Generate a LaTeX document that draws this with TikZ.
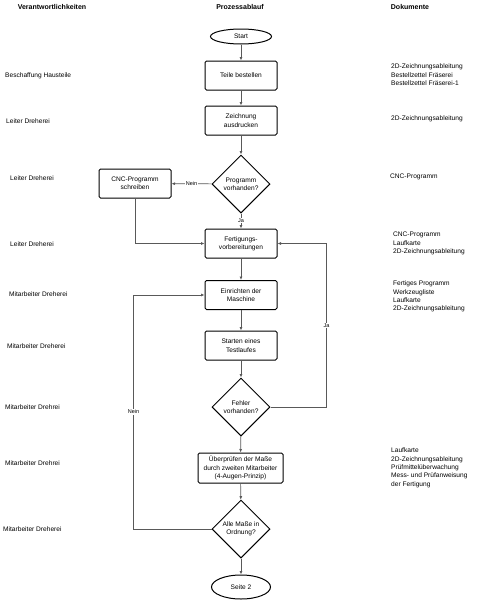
\documentclass[tikz,border=0pt]{standalone}
\usepackage{fontspec}
\setmainfont{Liberation Sans}
\usetikzlibrary{shapes.geometric,arrows.meta}
\tikzset{
  base/.style={font=\fontsize{6.6}{8.3}\selectfont, align=center, inner sep=0pt},
  proc/.style={base, draw=black, line width=1pt, rounded corners=1.5pt, fill=white, minimum width=72pt, minimum height=29pt},
  dec/.style={base, draw=black, line width=1pt, diamond, minimum width=58pt, minimum height=58pt, fill=white},
  term/.style={base, draw=black, line width=1pt, ellipse, minimum width=61pt, fill=white},
  conn/.style={draw=black!65, line width=0.7pt, -{Latex[length=3.5pt,width=3pt]}},
  lbl/.style={base, font=\fontsize{5.5}{6.5}\selectfont, fill=white, inner sep=0.8pt},
  head/.style={font=\bfseries\fontsize{7}{8.4}\selectfont, inner sep=0pt},
  resp/.style={base, anchor=west},
  docs/.style={base, align=left, anchor=north west}
}
\begin{document}
\begin{tikzpicture}[x=1pt,y=-1pt]
\useasboundingbox[fill=white] (0,0) rectangle (480,600);
% headers
\node[head] (h1) at (52,7) {Verantwortlichkeiten};
\node[head] (h2) at (240,7) {Prozessablauf};
\node[head] (h3) at (410,7) {Dokumente};
% flow
\node[term, minimum height=15pt] (start) at (241,36.5) {Start};
\node[proc] (teile) at (241,75.5) {Teile bestellen};
\node[proc] (zeich) at (241,120.5) {Zeichnung\\ausdrucken};
\node[dec] (prog) at (241,184) {Programm\\vorhanden?};
\node[proc] (cnc) at (135,183.5) {CNC-Programm\\schreiben};
\node[proc] (fert) at (241,243.5) {Fertigungs-\\vorbereitungen};
\node[proc] (einr) at (241,295) {Einrichten der\\Maschine};
\node[proc] (test) at (241,345.5) {Starten eines\\Testlaufes};
\node[dec] (fehl) at (241,407) {Fehler\\vorhanden?};
\node[proc, minimum width=85pt, minimum height=30pt] (pruef) at (240.5,468) {Überprüfen der Maße\\durch zweiten Mitarbeiter\\(4-Augen-Prinzip)};
\node[dec] (alle) at (241,529) {Alle Maße in\\Ordnung?};
\node[term, minimum width=59pt, minimum height=24pt] (seite) at (241,587) {Seite 2};
% connectors
\draw[conn] (start) -- (teile);
\draw[conn] (teile) -- (zeich);
\draw[conn] (zeich) -- (prog);
\draw[conn] (prog) -- node[lbl] {Nein} (cnc);
\draw[conn] (prog) -- node[lbl, pos=0.45] {Ja} (fert);
\draw[conn] (cnc.south) |- (fert.west);
\draw[conn] (fert) -- (einr);
\draw[conn] (einr) -- (test);
\draw[conn] (test) -- (fehl);
\draw[conn] (fehl.east) -- ++(56,0) coordinate (jr) |- node[lbl, pos=0.25] {Ja} (fert.east);
\draw[conn] (fehl) -- (pruef);
\draw[conn] (pruef) -- (alle);
\draw[conn] (alle.west) -- ++(-78,0) coordinate (nl) |- node[lbl, pos=0.25] {Nein} (einr.west);
\draw[conn] (alle) -- (seite);
% responsibilities
\node[resp] (r1) at (5,75.5) {Beschaffung Hausteile};
\node[resp] (r2) at (6,121) {Leiter Dreherei};
\node[resp] (r3) at (10,178) {Leiter Dreherei};
\node[resp] (r4) at (10,244) {Leiter Dreherei};
\node[resp] (r5) at (9,294.5) {Mitarbeiter Dreherei};
\node[resp] (r6) at (7,346) {Mitarbeiter Dreherei};
\node[resp] (r7) at (5,407) {Mitarbeiter Drehrei};
\node[resp] (r8) at (5,463) {Mitarbeiter Drehrei};
\node[resp] (r9) at (3,529) {Mitarbeiter Dreherei};
% documents
\node[docs] (d1) at (391,64) {2D-Zeichnungsableitung\\Bestellzettel Fräserei\\Bestellzettel Fräserei-1};
\node[docs] (d2) at (391,116) {2D-Zeichnungsableitung};
\node[docs] (d3) at (390,174) {CNC-Programm};
\node[docs] (d4) at (393,232) {CNC-Programm\\Laufkarte\\2D-Zeichnungsableitung};
\node[docs] (d5) at (393,281) {Fertiges Programm\\Werkzeugliste\\Laufkarte\\2D-Zeichnungsableitung};
\node[docs] (d6) at (391,448) {Laufkarte\\2D-Zeichnungsableitung\\Prüfmittelüberwachung\\Mess- und Prüfanweisung\\der Fertigung};
\end{tikzpicture}
\end{document}
